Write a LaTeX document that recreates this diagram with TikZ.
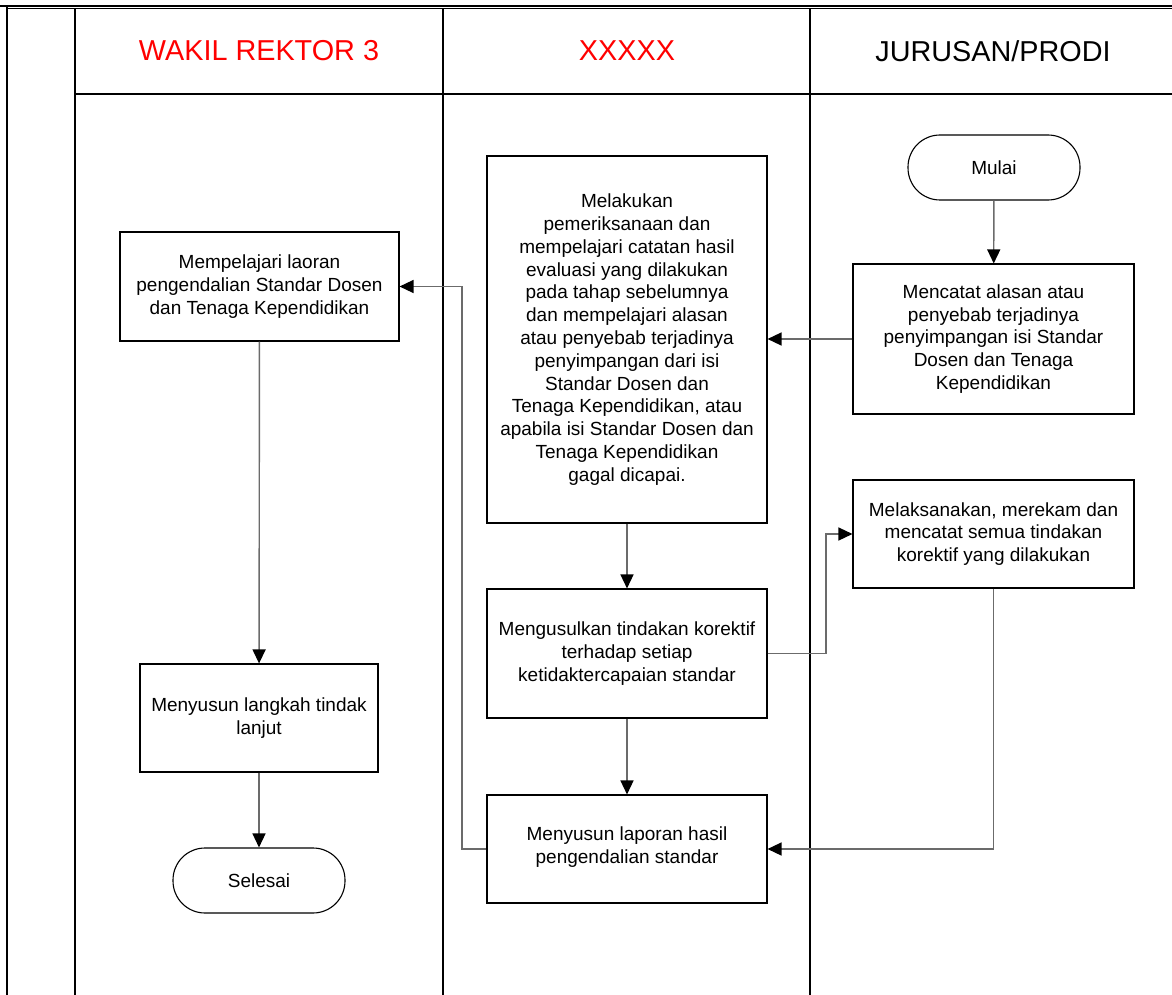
\documentclass[tikz,border=0pt]{standalone}
\usepackage{fontspec}
\setmainfont{Liberation Sans}
\usetikzlibrary{arrows.meta}
\definecolor{hdrred}{RGB}{255,0,0}
\tikzset{
  bodytext/.style={font=\fontsize{19}{22.8}\selectfont, align=center, text=black},
  procbox/.style={bodytext, draw=black, line width=1.1pt, inner sep=0pt},
  termbox/.style={bodytext, draw=black, line width=1.1pt, inner sep=0pt, rounded corners=32pt, minimum width=172pt, minimum height=65pt},
  lane/.style={draw=black, line width=1.1pt},
  hdr/.style={font=\fontsize{28.8}{34}\selectfont},
  flow/.style={draw=black!58, line width=1.4pt, -{Triangle[length=14pt,width=13pt,color=black]}}
}
\begin{document}
\begin{tikzpicture}[x=1pt,y=-1pt]
\useasboundingbox (0,0) rectangle (1172,995);
% frame and lanes
\draw[lane] (0,6) -- (1172,6);
\draw[lane] (7,8.5) -- (1172,8.5);
\draw[lane] (7,6) -- (7,995);
\draw[lane] (75,8.5) -- (75,995);
\draw[lane] (443,8.5) -- (443,995);
\draw[lane] (810,8.5) -- (810,995);
\draw[lane] (75,94) -- (1172,94);
% headers
\node[hdr, text=hdrred] (h1) at (259,51) {WAKIL REKTOR 3};
\node[hdr, text=hdrred] (h2) at (627,51) {XXXXX};
\node[hdr, text=black] (h3) at (993,51) {JURUSAN/PRODI};
% nodes
\node[termbox] (mulai) at (994,167.5) {Mulai};
\node[procbox, minimum width=281pt, minimum height=150pt] (catat) at (993.5,339) {Mencatat alasan atau\\penyebab terjadinya\\penyimpangan isi Standar\\Dosen dan Tenaga\\Kependidikan};
\node[procbox, minimum width=280pt, minimum height=367pt] (periksa) at (627,339.5) {};
\node[bodytext] (periksatxt) at (627,339.5) {Melakukan\\pemeriksanaan dan\\mempelajari catatan hasil\\evaluasi yang dilakukan\\pada tahap sebelumnya\\dan mempelajari alasan\\atau penyebab terjadinya\\penyimpangan dari isi\\Standar Dosen dan\\Tenaga Kependidikan, atau\\apabila isi Standar Dosen dan\\Tenaga Kependidikan\\gagal dicapai.};
\node[procbox, minimum width=279pt, minimum height=109pt] (pelajari) at (259.5,286.5) {Mempelajari laoran\\pengendalian Standar Dosen\\dan Tenaga Kependidikan};
\node[procbox, minimum width=280pt, minimum height=129pt] (usul) at (627,653.5) {Mengusulkan tindakan korektif\\terhadap setiap\\ketidaktercapaian standar};
\node[procbox, minimum width=281pt, minimum height=108pt] (laksana) at (993.5,534) {Melaksanakan, merekam dan\\mencatat semua tindakan\\korektif yang dilakukan};
\node[procbox, minimum width=280pt, minimum height=108pt] (lapor) at (627,849) {};
\node[bodytext] (laportxt) at (627,847) {Menyusun laporan hasil\\pengendalian standar};
\node[procbox, minimum width=238pt, minimum height=108pt] (langkah) at (259,718) {Menyusun langkah tindak\\lanjut};
\node[termbox] (selesai) at (259,880.5) {Selesai};
% connectors
\draw[flow] (mulai) -- (catat);
\draw[flow] (catat.west) -- (periksa.east |- catat.west);
\draw[flow] (periksa) -- (usul);
\coordinate (j1) at (826,653.5);
\coordinate (j2) at (826,534);
\draw[flow] (usul.east) -- (j1) -- (j2) -- (laksana.west);
\draw[flow] (usul) -- (lapor);
\coordinate (j3) at (993.5,849);
\draw[flow] (laksana.south) -- (j3) -- (lapor.east);
\coordinate (j4) at (462,849);
\coordinate (j5) at (462,286.5);
\draw[flow] (lapor.west) -- (j4) -- (j5) -- (pelajari.east);
\draw[flow] (pelajari) -- (langkah);
\draw[flow] (langkah) -- (selesai);
\end{tikzpicture}
\end{document}
